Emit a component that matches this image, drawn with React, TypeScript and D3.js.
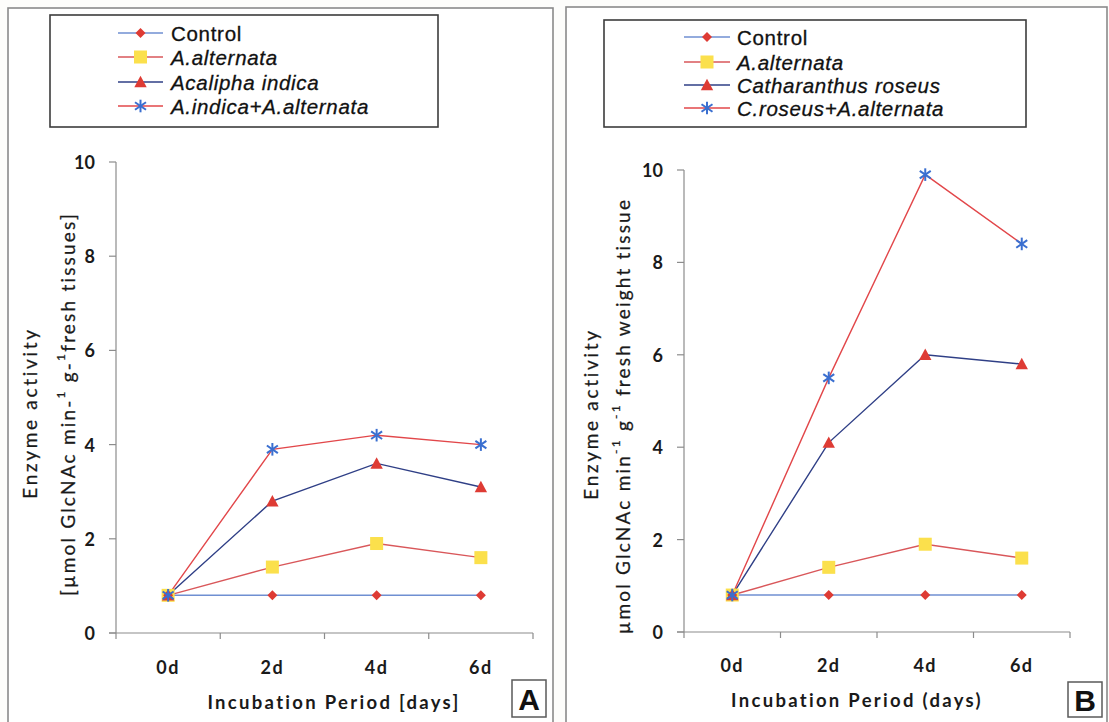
import React from "react";
import * as d3 from "d3";

const days = ["0d", "2d", "4d", "6d"];
const yTicks = [0, 2, 4, 6, 8, 10];

const controlA = [0.8, 0.8, 0.8, 0.8];
const alternataA = [0.8, 1.4, 1.9, 1.6];
const acaliphaA = [0.8, 2.8, 3.6, 3.1];
const comboA = [0.8, 3.9, 4.2, 4.0];

const controlB = [0.8, 0.8, 0.8, 0.8];
const alternataB = [0.8, 1.4, 1.9, 1.6];
const catharanthusB = [0.8, 4.1, 6.0, 5.8];
const comboB = [0.8, 5.5, 9.9, 8.4];

const legendA = ["Control", "A.alternata", "Acalipha indica", "A.indica+A.alternata"];
const legendB = ["Control", "A.alternata", "Catharanthus roseus", "C.roseus+A.alternata"];

const RED = "#de3b34";
const styles = [
  { line: "#6f8fd2", marker: "diamond", fill: RED },
  { line: "#d9575a", marker: "square", fill: "#fbe04c" },
  { line: "#2f3f86", marker: "triangle", fill: RED },
  { line: "#e2474a", marker: "star", fill: "#3a6fd0" },
];

const TICK_FONT = "Lato, 'Open Sans', sans-serif";
const LEG_FONT = "'Liberation Sans', Arial, sans-serif";

function Marker({ type, x, y, fill }: { type: string; x: number; y: number; fill: string }) {
  if (type === "diamond") {
    const r = 5;
    return <path d={`M${x},${y - r}L${x + r},${y}L${x},${y + r}L${x - r},${y}Z`} fill={fill} />;
  }
  if (type === "square") {
    const r = 6.5;
    return <rect x={x - r} y={y - r} width={2 * r} height={2 * r} fill={fill} />;
  }
  if (type === "triangle") {
    const r = 6.2;
    return <path d={`M${x},${y - r}L${x + r},${y + r * 0.85}L${x - r},${y + r * 0.85}Z`} fill={fill} />;
  }
  const r = 6.3;
  return (
    <g stroke={fill} strokeWidth={2}>
      <line x1={x} y1={y - r} x2={x} y2={y + r} />
      <line x1={x - r * 0.87} y1={y - r * 0.6} x2={x + r * 0.87} y2={y + r * 0.6} />
      <line x1={x - r * 0.87} y1={y + r * 0.6} x2={x + r * 0.87} y2={y - r * 0.6} />
    </g>
  );
}

type PanelProps = {
  frame: [number, number, number, number];
  legendBox: [number, number, number, number];
  legendRows: number[];
  legendLine: [number, number];
  legendTextX: number;
  labels: string[];
  series: number[][];
  xRange: [number, number];
  yRange: [number, number];
  yLabelX: number;
  xLabelY: number;
  xTitle: string;
  xTitleX: number;
  xTitleY: number;
  yTitle1: [number, number];
  yTitle2: [number, number];
  yTitle2Content: React.ReactNode;
  letter: string;
  letterBox: [number, number, number, number];
};

function Panel(p: PanelProps) {
  const x = d3.scaleBand<string>().domain(days).range(p.xRange);
  const y = d3.scaleLinear().domain([0, 10]).range(p.yRange);
  const cx = (d: string) => (x(d) as number) + x.bandwidth() / 2;
  const line = d3
    .line<number>()
    .x((_, i) => cx(days[i]))
    .y((v) => y(v));
  const [fx, fy, fw, fh] = p.frame;
  const [lx, ly, lw, lh] = p.legendBox;
  const x0 = p.xRange[0];
  const y0 = y(0);
  const boundaries = [...days.map((d) => x(d) as number), p.xRange[1]];
  const drawOrder = [0, 1, 2, 3];
  return (
    <g>
      <rect x={fx} y={fy} width={fw} height={fh} fill="#fff" stroke="#8a8a8a" strokeWidth={1.6} />
      <rect x={lx} y={ly} width={lw} height={lh} fill="#fff" stroke="#3c3c3c" strokeWidth={1.6} />
      {p.labels.map((lab, i) => {
        const ry = p.legendRows[i];
        const italic = i > 0;
        return (
          <g key={lab}>
            <line x1={p.legendLine[0]} x2={p.legendLine[1]} y1={ry} y2={ry} stroke={styles[i].line} strokeWidth={1.4} />
            <Marker type={styles[i].marker} x={(p.legendLine[0] + p.legendLine[1]) / 2} y={ry} fill={styles[i].fill} />
            <text
              x={p.legendTextX}
              y={ry}
              dominantBaseline="central"
              fontFamily={LEG_FONT}
              fontSize={20.5}
              fontStyle={italic ? "italic" : "normal"}
              letterSpacing={0.7}
              fill="#111"
              stroke="#111"
              strokeWidth={0.3}
            >
              {lab}
            </text>
          </g>
        );
      })}
      {/* axes */}
      <line x1={x0} x2={x0} y1={y(10)} y2={y0} stroke="#8c8c8c" strokeWidth={1.2} />
      <line x1={x0 - 7} x2={p.xRange[1]} y1={y0} y2={y0} stroke="#8c8c8c" strokeWidth={1.2} />
      {yTicks.map((t) => (
        <g key={t}>
          <line x1={x0 - 7} x2={x0} y1={y(t)} y2={y(t)} stroke="#8c8c8c" strokeWidth={1.2} />
          <text
            x={p.yLabelX}
            y={y(t)}
            textAnchor="end"
            dominantBaseline="central"
            fontFamily={TICK_FONT}
            fontWeight={700}
            fontSize={18}
            fill="#1a1a1a"
          >
            {t}
          </text>
        </g>
      ))}
      {boundaries.map((b, i) => (
        <line key={i} x1={b} x2={b} y1={y0} y2={y0 + 6} stroke="#8c8c8c" strokeWidth={1.2} />
      ))}
      {days.map((d) => (
        <text
          key={d}
          x={cx(d)}
          y={p.xLabelY}
          textAnchor="middle"
          dominantBaseline="central"
          fontFamily={TICK_FONT}
          fontWeight={700}
          fontSize={18}
          letterSpacing={1.5}
          fill="#1a1a1a"
        >
          {d}
        </text>
      ))}
      <text
        x={p.xTitleX}
        y={p.xTitleY}
        textAnchor="middle"
        dominantBaseline="central"
        fontFamily={TICK_FONT}
        fontWeight={700}
        fontSize={18.5}
        letterSpacing={2.3}
        fill="#1a1a1a"
      >
        {p.xTitle}
      </text>
      <text
        transform={`translate(${p.yTitle1[0]},${p.yTitle1[1]}) rotate(-90)`}
        textAnchor="middle"
        dominantBaseline="central"
        fontFamily={TICK_FONT}
        fontWeight={400}
        fontSize={19}
        letterSpacing={2.7}
        fill="#1a1a1a"
        stroke="#1a1a1a"
        strokeWidth={0.25}
      >
        Enzyme activity
      </text>
      <text
        transform={`translate(${p.yTitle2[0]},${p.yTitle2[1]}) rotate(-90)`}
        textAnchor="middle"
        dominantBaseline="central"
        fontFamily={TICK_FONT}
        fontWeight={400}
        fontSize={19}
        letterSpacing={2.2}
        fill="#1a1a1a"
        stroke="#1a1a1a"
        strokeWidth={0.25}
      >
        {p.yTitle2Content}
      </text>
      {/* series */}
      {drawOrder.map((si) => (
        <path key={"l" + si} d={line(p.series[si]) as string} fill="none" stroke={styles[si].line} strokeWidth={1.4} />
      ))}
      {[1, 0, 2, 3].map((si) =>
        p.series[si].map((v, i) => (
          <Marker key={"m" + si + "-" + i} type={styles[si].marker} x={cx(days[i])} y={y(v)} fill={styles[si].fill} />
        ))
      )}
      <rect
        x={p.letterBox[0]}
        y={p.letterBox[1]}
        width={p.letterBox[2]}
        height={p.letterBox[3]}
        fill="#fff"
        stroke="#5a5a5a"
        strokeWidth={1.5}
      />
      <text
        x={p.letterBox[0] + p.letterBox[2] / 2}
        y={p.letterBox[1] + p.letterBox[3] / 2 + 1}
        textAnchor="middle"
        dominantBaseline="central"
        fontFamily={LEG_FONT}
        fontWeight={700}
        fontSize={30}
        fill="#111"
      >
        {p.letter}
      </text>
    </g>
  );
}

export default function App() {
  return (
    <svg
      width={1109}
      height={722}
      viewBox="0 0 1109 722"
      style={{ position: "absolute", left: 0, top: 0, background: "#fff" }}
    >
      <rect x={0} y={0} width={1109} height={722} fill="#fdfdfb" />
      <Panel
        frame={[8, 8, 545, 730]}
        legendBox={[50, 15, 388, 112]}
        legendRows={[33, 57, 82, 106]}
        legendLine={[118, 163]}
        legendTextX={171}
        labels={legendA}
        series={[controlA, alternataA, acaliphaA, comboA]}
        xRange={[116, 533]}
        yRange={[633, 162]}
        yLabelX={95}
        xLabelY={667}
        xTitle="Incubation Period [days]"
        xTitleX={334}
        xTitleY={702}
        yTitle1={[29, 413]}
        yTitle2={[67, 404]}
        yTitle2Content={
          <>
            [µmol GlcNAc min-<tspan dy={-7} fontSize={12}>1</tspan>
            <tspan dy={7}> g-</tspan>
            <tspan dy={-7} fontSize={12}>1</tspan>
            <tspan dy={7}>fresh  tissues]</tspan>
          </>
        }
        letter="A"
        letterBox={[512, 680, 34, 37]}
      />
      <Panel
        frame={[566, 7, 541, 730]}
        legendBox={[604, 20, 422, 107]}
        legendRows={[37, 62, 85, 108]}
        legendLine={[684, 730]}
        legendTextX={737}
        labels={legendB}
        series={[controlB, alternataB, catharanthusB, comboB]}
        xRange={[684, 1070]}
        yRange={[632, 170]}
        yLabelX={663}
        xLabelY={665}
        xTitle="Incubation Period (days)"
        xTitleX={857}
        xTitleY={700}
        yTitle1={[590, 414]}
        yTitle2={[622, 416]}
        yTitle2Content={
          <>
            µmol GlcNAc min<tspan dy={-7} fontSize={12}>-1</tspan>
            <tspan dy={7}> g</tspan>
            <tspan dy={-7} fontSize={12}>-1</tspan>
            <tspan dy={7}> fresh weight tissue</tspan>
          </>
        }
        letter="B"
        letterBox={[1068, 682, 34, 35]}
      />
    </svg>
  );
}
